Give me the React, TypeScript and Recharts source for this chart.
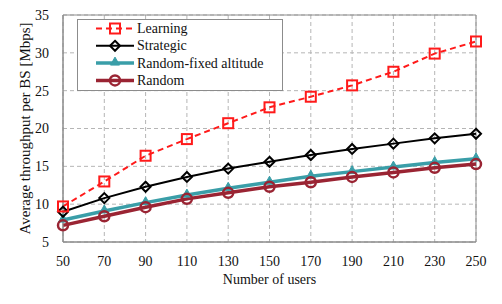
import { LineChart, Line, XAxis, YAxis, CartesianGrid, ReferenceArea } from 'recharts';

const users = [50, 70, 90, 110, 130, 150, 170, 190, 210, 230, 250];
const learning = [9.7, 13.0, 16.4, 18.6, 20.7, 22.8, 24.2, 25.7, 27.5, 29.9, 31.5];
const strategic = [9.0, 10.8, 12.3, 13.6, 14.7, 15.6, 16.5, 17.3, 18.0, 18.7, 19.3];
const randomFixed = [7.9, 9.1, 10.2, 11.2, 12.1, 12.9, 13.7, 14.3, 14.9, 15.5, 16.0];
const randomPlain = [7.2, 8.4, 9.6, 10.7, 11.5, 12.3, 12.9, 13.6, 14.2, 14.8, 15.3];
const yTicks = [5, 10, 15, 20, 25, 30, 35];

const seriesNames = ['Learning', 'Strategic', 'Random-fixed altitude', 'Random'];

const data = users.map((u, i) => ({
  users: u,
  learning: learning[i],
  strategic: strategic[i],
  randomFixed: randomFixed[i],
  randomPlain: randomPlain[i],
}));

const FONT = '"Liberation Serif", "Times New Roman", serif';
const RED = '#ff1a1a';
const TEAL = '#3a9ea8';
const MAROON = '#9a2433';

type Marker = 'square' | 'diamond' | 'triangle' | 'circle';

function drawMarker(kind: Marker, cx: number, cy: number, color: string, key?: string | number) {
  if (kind === 'square') {
    return <rect key={key} x={cx - 5} y={cy - 5} width={10} height={10} fill="none" stroke={color} strokeWidth={2} />;
  }
  if (kind === 'diamond') {
    return (
      <polygon key={key} points={`${cx},${cy - 5} ${cx + 5},${cy} ${cx},${cy + 5} ${cx - 5},${cy}`} fill="none" stroke={color} strokeWidth={2} />
    );
  }
  if (kind === 'triangle') {
    return (
      <polygon key={key} points={`${cx},${cy - 6} ${cx + 4.5},${cy + 2} ${cx - 4.5},${cy + 2}`} fill={color} stroke={color} strokeWidth={1} />
    );
  }
  return <circle key={key} cx={cx} cy={cy} r={5} fill="none" stroke={color} strokeWidth={2.5} />;
}

const dotOf = (kind: Marker, color: string) => (props: any) =>
  drawMarker(kind, props.cx, props.cy, color, props.index);

const legendRows: { color: string; width: number; dash?: string; marker: Marker }[] = [
  { color: RED, width: 2, dash: '6 4', marker: 'square' },
  { color: '#000', width: 2, marker: 'diamond' },
  { color: TEAL, width: 3.5, marker: 'triangle' },
  { color: MAROON, width: 3.5, marker: 'circle' },
];

// legend box drawn over the plot, top-left corner
function LegendBox() {
  return (
    <svg width={206} height={72} style={{ display: 'block' }}>
      <rect x={0.5} y={0.5} width={205} height={71} fill="#fff" stroke="#8c8c8c" strokeWidth={1} />
      {legendRows.map((r, i) => {
        const y = 9.5 + i * 17.3;
        return (
          <g key={seriesNames[i]}>
            <line x1={19} x2={57} y1={y} y2={y} stroke={r.color} strokeWidth={r.width} strokeDasharray={r.dash} />
            {drawMarker(r.marker, 38, y, r.color)}
            <text x={60} y={y + 4.5} fontFamily={FONT} fontSize={14} fill="#111">
              {seriesNames[i]}
            </text>
          </g>
        );
      })}
    </svg>
  );
}

export default function App() {
  return (
    <div style={{ position: 'absolute', left: 0, top: 0, width: 502, height: 304, background: '#fff' }}>
      <LineChart width={502} height={304} data={data} margin={{ top: 15, right: 26, bottom: 20, left: 0 }}>
        <CartesianGrid strokeDasharray="4 3" stroke="#b5b5b5" />
        <XAxis
          dataKey="users"
          type="number"
          domain={[50, 250]}
          ticks={users}
          tickLine={false}
          axisLine={{ stroke: '#8c8c8c' }}
          tick={{ fontFamily: FONT, fontSize: 14, fill: '#111' }}
          tickMargin={8}
          height={42}
          label={{ value: 'Number of users', position: 'insideBottom', offset: 0, fontFamily: FONT, fontSize: 14, fill: '#111' }}
        />
        <YAxis
          type="number"
          domain={[5, 35]}
          ticks={yTicks}
          tickLine={false}
          axisLine={{ stroke: '#8c8c8c' }}
          tick={{ fontFamily: FONT, fontSize: 14, fill: '#111' }}
          tickMargin={8}
          width={63}
          label={{
            value: 'Average throughput per BS [Mbps]',
            angle: -90,
            position: 'insideLeft',
            offset: 25,
            style: { textAnchor: 'middle' },
            fontFamily: FONT,
            fontSize: 15,
            fill: '#111',
          }}
        />
        <ReferenceArea x1={50} x2={250} y1={5} y2={35} fill="none" stroke="#8c8c8c" strokeWidth={1} />
        <Line
          dataKey="randomFixed"
          name={seriesNames[2]}
          stroke={TEAL}
          strokeWidth={3.5}
          dot={dotOf('triangle', TEAL)}
          isAnimationActive={false}
        />
        <Line
          dataKey="randomPlain"
          name={seriesNames[3]}
          stroke={MAROON}
          strokeWidth={3.5}
          dot={dotOf('circle', MAROON)}
          isAnimationActive={false}
        />
        <Line
          dataKey="strategic"
          name={seriesNames[1]}
          stroke="#000"
          strokeWidth={2}
          dot={dotOf('diamond', '#000')}
          isAnimationActive={false}
        />
        <Line
          dataKey="learning"
          name={seriesNames[0]}
          stroke={RED}
          strokeWidth={2}
          strokeDasharray="6 4"
          dot={dotOf('square', RED)}
          isAnimationActive={false}
        />
      </LineChart>
      <div style={{ position: 'absolute', left: 77, top: 19 }}>
        <LegendBox />
      </div>
    </div>
  );
}
